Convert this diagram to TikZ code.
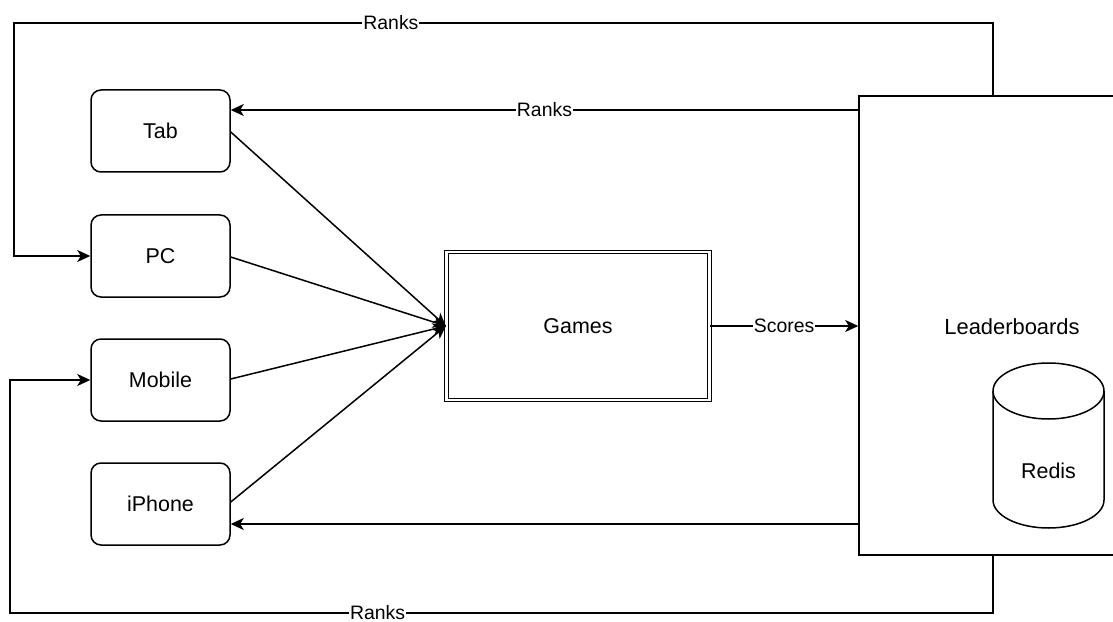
\documentclass[tikz,border=0pt]{standalone}
\usepackage{fontspec}
\setmainfont{Liberation Sans}
\usetikzlibrary{arrows.meta}
\begin{document}
\begin{tikzpicture}[x=1bp,y=-1bp,line width=1.5bp,
  box/.style={draw, rounded corners=10bp, minimum width=139bp, minimum height=82bp,
    inner sep=0pt, font=\fontsize{21.5}{25}\selectfont},
  lbl/.style={fill=white, inner sep=1bp, font=\fontsize{19.5}{23}\selectfont},
  arr/.style={-{Stealth[length=13bp,width=12bp,inset=3.5bp]}}]
\useasboundingbox (0,0) rectangle (1113,622);
\clip (0,0) rectangle (1113,622);
% client boxes
\node[box] (tab) at (160.5,131) {Tab};
\node[box] (pc)  at (160.5,256) {PC};
\node[box] (mob) at (160.5,380) {Mobile};
\node[box] (iph) at (160.5,504) {iPhone};
% games
\node[draw, double, double distance=2.5bp, line width=1.2bp, minimum width=263bp,
  minimum height=148bp, inner sep=0pt, font=\fontsize{21.5}{25}\selectfont] (games) at (578,326) {Games};
% leaderboards
\node[draw, minimum width=306bp, minimum height=459bp, inner sep=0pt] (lb) at (1012,325.5) {};
\node[font=\fontsize{22}{25}\selectfont, inner sep=0pt] (lbtxt) at (1012,327) {Leaderboards};
% redis cylinder
\draw (993,391) -- (993,500) arc[start angle=180, end angle=0, x radius=55.5, y radius=28] -- (1104,391);
\draw (1048.5,391) ellipse[x radius=55.5, y radius=28];
\node[font=\fontsize{21.5}{25}\selectfont, inner sep=0pt] (redis) at (1048.5,471) {Redis};
% rank loops
\draw[arr] (993,0 |- lb.north) -- (993,23) -- node[lbl, pos=0.615] {Ranks} (14,23) |- (pc.west);
\draw[arr] (lb.west |- 0,110) -- node[lbl] {Ranks} (tab.east |- 0,110);
\draw[arr] (993,0 |- lb.south) -- (993,613) -- node[lbl, pos=0.626] {Ranks} (10,613) |- (mob.west);
\draw[arr] (lb.west |- 0,524) -- (iph.east |- 0,524);
% clients to games
\draw[arr] (tab.east |- 0,132) -- (games.west);
\draw[arr] (pc.east |- 0,257) -- (games.west);
\draw[arr] (mob.east |- 0,379) -- (games.west);
\draw[arr] (iph.east |- 0,502) -- (games.west);
% scores
\draw[arr] (games.east) -- node[lbl] {Scores} (lb.west |- games.east);
\end{tikzpicture}
\end{document}
